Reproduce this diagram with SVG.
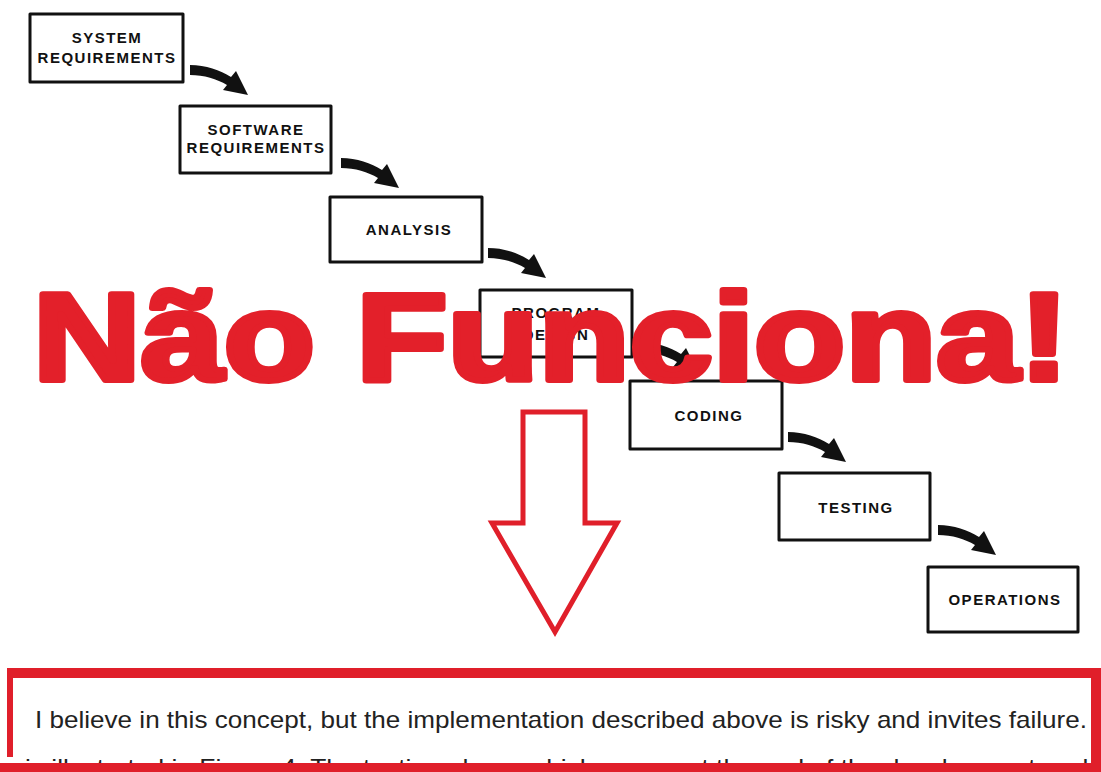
<svg xmlns="http://www.w3.org/2000/svg" width="1101" height="772" viewBox="0 0 1101 772">
  <style>
    .box { fill: #fff; stroke: #111; stroke-width: 3; stroke-linejoin: round; }
    .lbl { font-family: "Liberation Sans", Arial, sans-serif; font-weight: bold; font-size: 15px; letter-spacing: 1.5px; fill: #111; text-anchor: middle; }
    .flow { fill: #111; }
    .head { font-family: "Liberation Sans", Arial, sans-serif; font-weight: bold; font-size: 124px; fill: #E3202A; stroke: #E3202A; stroke-width: 6; stroke-linejoin: round; }
    .quote { font-family: "Liberation Sans", Arial, sans-serif; font-size: 24px; fill: #222; }
    .red { fill: #E01F2A; }
  </style>
  <defs>
    <!-- thick curved step arrow, origin at the top-left of its tail -->
    <path id="step" d="M0,0 C16,0 30,5 41,12 L46,6 L58,30 L33,25 L37,20 C27,14 14,10 0,10 Z"/>
    <clipPath id="noteClip"><rect x="0" y="740" width="1101" height="23"/></clipPath>
  </defs>

  <rect width="1101" height="772" fill="#fff"/>

  <!-- waterfall stages -->
  <g id="system-requirements">
    <rect class="box" x="30" y="14" width="153" height="68"/>
    <text class="lbl" x="107" y="43">SYSTEM</text>
    <text class="lbl" x="107" y="63">REQUIREMENTS</text>
  </g>
  <g id="software-requirements">
    <rect class="box" x="180" y="106" width="151" height="67"/>
    <text class="lbl" x="256" y="135">SOFTWARE</text>
    <text class="lbl" x="256" y="153">REQUIREMENTS</text>
  </g>
  <g id="analysis">
    <rect class="box" x="330" y="197" width="152" height="65"/>
    <text class="lbl" x="409" y="235">ANALYSIS</text>
  </g>
  <g id="program-design">
    <rect class="box" x="480" y="290" width="152" height="67"/>
    <text class="lbl" x="556" y="318">PROGRAM</text>
    <text class="lbl" x="556" y="340">DESIGN</text>
  </g>
  <g id="coding">
    <rect class="box" x="630" y="381" width="152" height="68"/>
    <text class="lbl" x="709" y="421">CODING</text>
  </g>
  <g id="testing">
    <rect class="box" x="779" y="473" width="151" height="67"/>
    <text class="lbl" x="856" y="513">TESTING</text>
  </g>
  <g id="operations">
    <rect class="box" x="928" y="567" width="150" height="65"/>
    <text class="lbl" x="1005" y="605">OPERATIONS</text>
  </g>

  <!-- connectors between stages -->
  <g id="connectors" class="flow">
    <use href="#step" x="190" y="65"/>
    <use href="#step" x="341" y="158"/>
    <use href="#step" x="488" y="248"/>
    <use href="#step" x="640" y="342"/>
    <use href="#step" x="788" y="432"/>
    <use href="#step" x="938" y="525"/>
  </g>

  <!-- headline over the cascade -->
  <g id="headline">
    <text class="head" x="33" y="380" textLength="1036" lengthAdjust="spacingAndGlyphs">Não Funciona!</text>
  </g>

  <!-- hollow pointer down to the quotation -->
  <g id="pointer">
    <polygon points="523,412 585,412 585,523 617,523 555,632 492,523 523,523 523,412" fill="#fff" stroke="#E01F2A" stroke-width="5" stroke-linejoin="miter"/>
  </g>

  <!-- quotation panel -->
  <g id="quote">
    <rect x="7" y="668" width="1094" height="104" fill="#fff"/>
    <text class="quote" x="35" y="728" textLength="1052" lengthAdjust="spacingAndGlyphs">I believe in this concept, but the implementation described above is risky and invites failure.</text>
    <g clip-path="url(#noteClip)">
      <text class="quote" x="3" y="776" textLength="1100" lengthAdjust="spacingAndGlyphs" fill="#333">e is illustrated in Figure 4. The testing phase which occurs at the end of the development cycle</text>
    </g>
    <rect class="red" x="7" y="668" width="1094" height="10"/>
    <rect class="red" x="7" y="668" width="6" height="89"/>
    <rect class="red" x="1091" y="668" width="10" height="104"/>
    <rect class="red" x="0" y="763" width="1101" height="9"/>
  </g>
</svg>
